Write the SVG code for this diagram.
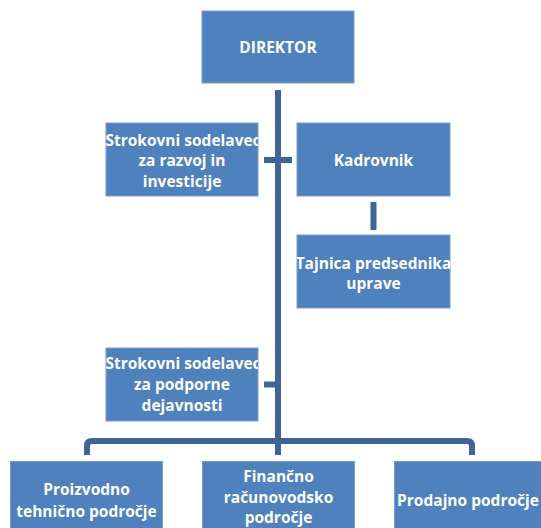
<svg xmlns="http://www.w3.org/2000/svg" width="541" height="528" viewBox="0 0 541 528">
<style>
.box{fill:#4F81BD;stroke:#7A9FCC;stroke-width:1}
.t{font-family:"Open Sans","Liberation Sans",sans-serif;font-weight:bold;font-size:15.5px;fill:#fff;text-anchor:middle}
.c{fill:none;stroke:#3E6596;stroke-width:6}
</style>
<defs>
<clipPath id="k1"><rect x="106" y="123" width="152" height="73"/></clipPath>
<clipPath id="k2"><rect x="297" y="235" width="153" height="73"/></clipPath>
<clipPath id="k3"><rect x="106" y="348" width="152" height="73"/></clipPath>
</defs>
<rect width="541" height="528" fill="#fff"/>
<g id="connectors">
<line class="c" x1="278" y1="90" x2="278" y2="441"/>
<line class="c" x1="264" y1="160" x2="292" y2="160"/>
<line class="c" x1="373.5" y1="202" x2="373.5" y2="230"/>
<line class="c" x1="264" y1="384.5" x2="278" y2="384.5"/>
<path class="c" d="M87 455 V446 Q87 441 92 441 H467 Q472 441 472 446 V455" stroke-width="5"/>
<line class="c" x1="278" y1="441" x2="278" y2="455" stroke-width="5"/>
</g>
<g id="director">
<rect class="box" x="202" y="11" width="152" height="72"/>
<text class="t" x="278" y="52.5">DIREKTOR</text>
</g>
<g id="strokovni1">
<rect class="box" x="106" y="123" width="152" height="73"/>
<g clip-path="url(#k1)">
<text class="t" x="183" y="145.5">Strokovni sodelavec</text>
<text class="t" x="182" y="165.5">za razvoj in</text>
<text class="t" x="182" y="187">investicije</text>
</g>
</g>
<g id="kadrovnik">
<rect class="box" x="297" y="123" width="153" height="73"/>
<text class="t" x="373.5" y="165.5">Kadrovnik</text>
</g>
<g id="tajnica">
<rect class="box" x="297" y="235" width="153" height="73"/>
<g clip-path="url(#k2)">
<text class="t" x="373.5" y="268.5">Tajnica predsednika</text>
<text class="t" x="373.5" y="288.5">uprave</text>
</g>
</g>
<g id="strokovni2">
<rect class="box" x="106" y="348" width="152" height="73"/>
<g clip-path="url(#k3)">
<text class="t" x="183" y="368.5">Strokovni sodelavec</text>
<text class="t" x="182" y="390">za podporne</text>
<text class="t" x="182" y="410.5">dejavnosti</text>
</g>
</g>
<g id="proizvodno">
<rect class="box" x="10.5" y="461.5" width="152" height="72"/>
<text class="t" x="86.5" y="494.5">Proizvodno</text>
<text class="t" x="86.5" y="517">tehnično področje</text>
</g>
<g id="financno">
<rect class="box" x="202.5" y="461.5" width="152" height="72"/>
<text class="t" x="278.5" y="481.5">Finančno</text>
<text class="t" x="278.5" y="502.5">računovodsko</text>
<text class="t" x="278.5" y="522.5">področje</text>
</g>
<g id="prodajno">
<rect class="box" x="394.5" y="461.5" width="152" height="72"/>
<text class="t" x="468" y="505.5">Prodajno področje</text>
</g>
</svg>
